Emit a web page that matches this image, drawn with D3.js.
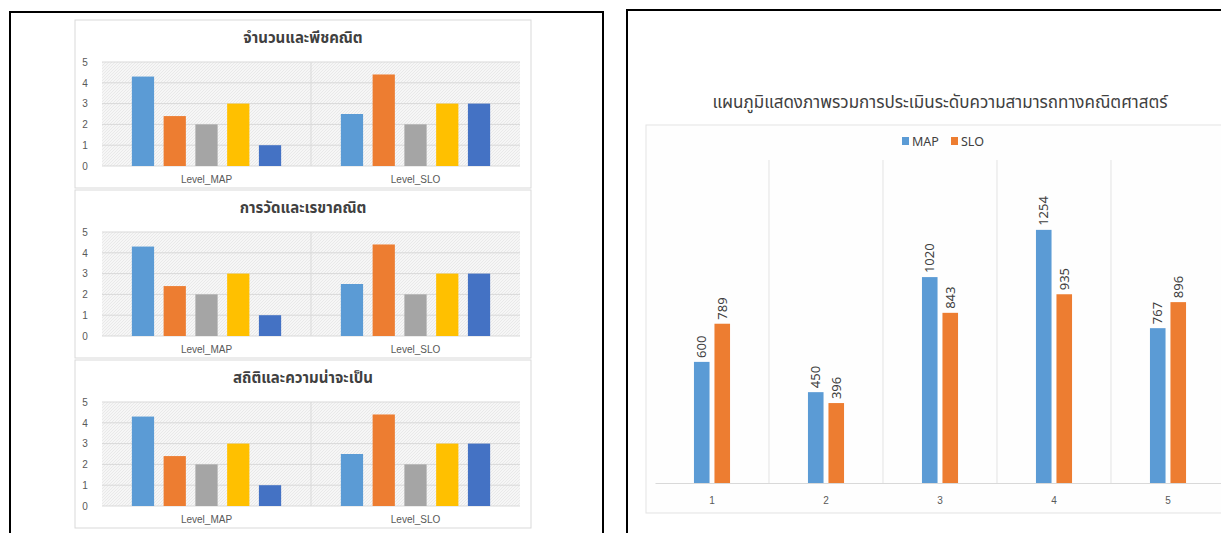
<!DOCTYPE html>
<html>
<head>
<meta charset="utf-8">
<script src="https://cdn.jsdelivr.net/npm/d3@7"></script>
<style>
  body { margin: 0; background: #fff; }
  svg { display: block; font-family: "Noto Sans Thai", "Noto Sans", "DejaVu Sans", sans-serif; }
</style>
</head>
<body>
<svg width="1221" height="533"></svg>
<script>
// left: three small charts (same levels), right: overview of scores
var leftTitles  = ['จำนวนและพีชคณิต', 'การวัดและเรขาคณิต', 'สถิติและความน่าจะเป็น'];
var levelGroups = ['Level_MAP', 'Level_SLO'];
var mapLevels   = [4.3, 2.4, 2, 3, 1];
var sloLevels   = [2.5, 4.4, 2, 3, 3];
var levelTicks  = [0, 1, 2, 3, 4, 5];

var rightTitle  = 'แผนภูมิแสดงภาพรวมการประเมินระดับความสามารถทางคณิตศาสตร์';
var rightCats   = ['1', '2', '3', '4', '5'];
var seriesNames = ['MAP', 'SLO'];
var mapScores   = [600, 450, 1020, 1254, 767];
var sloScores   = [789, 396, 843, 935, 896];

var levelColors  = ['#5B9BD5', '#ED7D31', '#A5A5A5', '#FFC000', '#4472C4'];
var seriesColors = ['#5B9BD5', '#ED7D31'];

var svg = d3.select('svg');

// hatch pattern for the small plot areas
var defs = svg.append('defs');
var pat = defs.append('pattern')
  .attr('id', 'hatch')
  .attr('patternUnits', 'userSpaceOnUse')
  .attr('width', 3).attr('height', 3);
pat.append('rect').attr('width', 3).attr('height', 3).attr('fill', '#f6f6f6');
pat.append('path').attr('d', 'M0,3 L3,0').attr('stroke', '#e4e4e4').attr('stroke-width', 0.7);

// black panel frames
svg.append('rect').attr('x', 10).attr('y', 12).attr('width', 593).attr('height', 540)
  .attr('fill', 'none').attr('stroke', '#000').attr('stroke-width', 2);
svg.append('rect').attr('x', 627).attr('y', 10).attr('width', 620).attr('height', 540)
  .attr('fill', 'none').attr('stroke', '#000').attr('stroke-width', 2);

// ---- left small charts ----
var levelData = [mapLevels, sloLevels];

leftTitles.forEach(function (title, i) {
  var top = 20 + i * 170;
  var g = svg.append('g');

  g.append('rect').attr('x', 75).attr('y', top).attr('width', 456).attr('height', 168)
    .attr('fill', '#fff').attr('stroke', '#d9d9d9');

  g.append('text').attr('x', 303).attr('y', top + 23)
    .attr('text-anchor', 'middle').attr('font-size', 15).attr('font-weight', 'bold')
    .attr('fill', '#404040').text(title);

  var y = d3.scaleLinear().domain([0, 5]).range([top + 146, top + 42]);
  var x0 = d3.scaleBand().domain(levelGroups).range([102, 520]);
  var x1 = d3.scaleBand().domain(d3.range(5)).range([0, x0.bandwidth()])
    .paddingInner(0.3).paddingOuter(0.94);

  g.append('rect').attr('x', 102).attr('y', y(5)).attr('width', 418).attr('height', y(0) - y(5))
    .attr('fill', 'url(#hatch)');

  g.selectAll('.grid').data(levelTicks).enter().append('line')
    .attr('x1', 102).attr('x2', 520)
    .attr('y1', function (d) { return y(d); }).attr('y2', function (d) { return y(d); })
    .attr('stroke', '#d9d9d9');

  g.append('line').attr('x1', x0('Level_SLO')).attr('x2', x0('Level_SLO'))
    .attr('y1', y(5)).attr('y2', y(0)).attr('stroke', '#d9d9d9');

  var yAxis = g.append('g').attr('transform', 'translate(92,0)')
    .call(d3.axisLeft(y).tickValues(levelTicks).tickSize(0).tickFormat(d3.format('d')));
  yAxis.select('.domain').remove();
  yAxis.selectAll('text').attr('font-size', 10).attr('fill', '#595959').attr('text-anchor', 'middle').attr('dx', -4);

  var xAxis = g.append('g').attr('transform', 'translate(0,' + y(0) + ')')
    .call(d3.axisBottom(x0).tickSize(0).tickPadding(10));
  xAxis.select('.domain').remove();
  xAxis.selectAll('text').attr('font-size', 10).attr('fill', '#595959');

  levelGroups.forEach(function (grp, gi) {
    g.selectAll('.bar' + gi).data(levelData[gi]).enter().append('rect')
      .attr('x', function (d, k) { return x0(grp) + x1(k); })
      .attr('width', x1.bandwidth())
      .attr('y', function (d) { return y(d); })
      .attr('height', function (d) { return y(0) - y(d); })
      .attr('fill', function (d, k) { return levelColors[k]; });
  });
});

// ---- right overview chart ----
var rg = svg.append('g');
rg.append('text').attr('x', 940).attr('y', 108).attr('text-anchor', 'middle')
  .attr('font-size', 17).attr('fill', '#404040').text(rightTitle);

rg.append('rect').attr('x', 646).attr('y', 125).attr('width', 600).attr('height', 388)
  .attr('fill', '#fefefe').attr('stroke', '#e3e3e3');

var xr = d3.scaleBand().domain(rightCats).range([655, 1225]);
var xs = d3.scaleBand().domain(seriesNames).range([0, xr.bandwidth()])
  .paddingInner(0.24).paddingOuter(1.9);
var yr = d3.scaleLinear().domain([0, 1610]).range([483, 158]);

rg.selectAll('.div').data(rightCats.slice(1)).enter().append('line')
  .attr('x1', function (d) { return xr(d); }).attr('x2', function (d) { return xr(d); })
  .attr('y1', 160).attr('y2', 483).attr('stroke', '#e3e3e3');

var xra = rg.append('g').attr('transform', 'translate(0,483)')
  .call(d3.axisBottom(xr).tickSize(0).tickPadding(14));
xra.select('.domain').attr('stroke', '#d9d9d9');
xra.selectAll('text').attr('font-size', 10).attr('fill', '#595959');

// legend
var legend = rg.append('g').attr('transform', 'translate(902,137)');
[['MAP', 0, 0], ['SLO', 1, 49]].forEach(function (l) {
  legend.append('rect').attr('x', l[2]).attr('y', 0).attr('width', 7).attr('height', 8)
    .attr('fill', seriesColors[l[1]]);
  legend.append('text').attr('x', l[2] + 10).attr('y', 8.5).attr('font-size', 12.5)
    .attr('fill', '#404040').text(l[0]);
});

var scoreData = [mapScores, sloScores];
seriesNames.forEach(function (s, si) {
  var vals = scoreData[si];
  rg.selectAll('.sbar' + si).data(vals).enter().append('rect')
    .attr('x', function (d, k) { return xr(rightCats[k]) + xs(s); })
    .attr('width', xs.bandwidth())
    .attr('y', function (d) { return yr(d); })
    .attr('height', function (d) { return yr(0) - yr(d); })
    .attr('fill', seriesColors[si]);

  rg.selectAll('.slab' + si).data(vals).enter().append('text')
    .attr('transform', function (d, k) {
      var cx = xr(rightCats[k]) + xs(s) + xs.bandwidth() / 2;
      return 'translate(' + (cx + 4.5) + ',' + (yr(d) - 4) + ') rotate(-90)';
    })
    .attr('font-size', 13).attr('fill', '#404040').text(function (d) { return d; });
});
</script>
</body>
</html>
